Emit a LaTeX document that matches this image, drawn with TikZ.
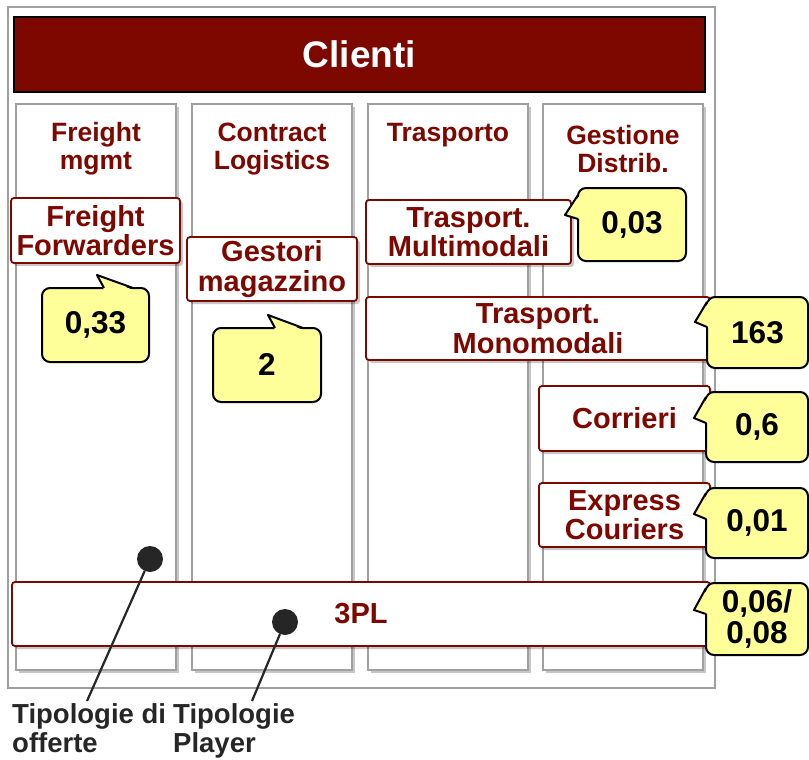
\documentclass[tikz,border=0pt]{standalone}
\usepackage{fontspec}
\setmainfont{Liberation Sans}
\usetikzlibrary{shadows}
\definecolor{dred}{RGB}{125,8,0}
\definecolor{yel}{RGB}{255,255,153}
\definecolor{colgray}{RGB}{160,160,160}
\definecolor{ink}{RGB}{38,38,38}
\newcommand\lblfont{\fontsize{29}{29.5}\selectfont\bfseries}
\newcommand\numfont{\fontsize{31.5}{32}\selectfont\bfseries}
\newcommand\hdrfont{\fontsize{26.5}{28}\selectfont\bfseries}
\newcommand\botfont{\fontsize{27.5}{29}\selectfont\bfseries}
\tikzset{
  shd/.style={drop shadow={shadow xshift=3pt, shadow yshift=-3pt, opacity=0.22, fill=black}},
  frame/.style={draw=colgray, line width=2pt},
  colbox/.style={draw=colgray, line width=1.6pt, fill=white, shd},
  clbar/.style={draw=black, line width=2pt, fill=dred, text=white, font=\fontsize{37}{40}\selectfont\bfseries, inner sep=0pt},
  hdr/.style={text=dred, font=\hdrfont, align=center, inner sep=0pt},
  lbl/.style={draw=dred, line width=1.8pt, fill=white, rounded corners=3pt, align=center, text=dred, font=\lblfont, inner sep=0pt, shd},
  callbox/.style={draw=black, line width=2pt, fill=yel, rounded corners=8pt, align=center, text=black, font=\numfont, inner sep=0pt},
  ptrfill/.style={fill=yel},
  ptrline/.style={draw=black, line width=2pt, line join=round},
  dot/.style={circle, fill=ink, minimum size=26pt, inner sep=0pt},
  lead/.style={draw=ink, line width=2.2pt},
  btxt/.style={text=ink, font=\botfont, align=left, inner sep=0pt, anchor=north west}
}
\begin{document}
\begin{tikzpicture}[x=1pt,y=-1pt]
\useasboundingbox (0,0) rectangle (809,760);
% outer frame
\draw[frame, fill=white] (8,7) rectangle (715,688);
% Clienti bar
\node[clbar, minimum width=691pt, minimum height=75pt] (cl) at (359.5,54.5) {Clienti};
% columns
\draw[colbox] (16,104) rectangle (176,670);
\draw[colbox] (192,104) rectangle (352,670);
\draw[colbox] (368,104) rectangle (528,670);
\draw[colbox] (543,104) rectangle (703,670);
% headers
\node[hdr] (h1) at (96,149) {Freight\\mgmt};
\node[hdr] (h2) at (272,149) {Contract\\Logistics};
\node[hdr] (h3) at (448,135) {Trasporto};
\node[hdr] (h4) at (623,149) {Gestione\\Distrib.};
% label boxes
\node[lbl, minimum width=169pt, minimum height=65pt] (ff) at (95.5,230.5) {Freight\\Forwarders};
\node[lbl, minimum width=170pt, minimum height=64pt] (gm) at (272,269) {Gestori\\magazzino};
\node[lbl, minimum width=205pt, minimum height=64pt] (tmu) at (468.5,232) {Trasport.\\Multimodali};
\node[lbl, minimum width=344pt, minimum height=63pt] (tmo) at (538,328.5) {Trasport.\\Monomodali};
\node[lbl, minimum width=171pt, minimum height=65pt] (cor) at (624.5,418.5) {Corrieri};
\node[lbl, minimum width=171pt, minimum height=64pt] (exc) at (624.5,515) {Express\\Couriers};
\node[lbl, minimum width=698pt, minimum height=64pt] (tpl) at (361,614) {3PL};
% callouts
\node[callbox, minimum width=107pt, minimum height=74pt] (n1) at (95.5,325) {0,33};
\fill[ptrfill] (104,290) -- (97,275) -- (133,290) -- cycle;
\draw[ptrline] (104,288) -- (97,275) -- (133,288);
\node[callbox, minimum width=108pt, minimum height=74pt] (n2) at (267,365) {2};
\fill[ptrfill] (275,330) -- (268,315) -- (303,330) -- cycle;
\draw[ptrline] (275,328) -- (268,315) -- (303,328);
\node[callbox, minimum width=108pt, minimum height=73pt] (n3) at (632,224.5) {0,03};
\fill[ptrfill] (580,195) -- (565,215) -- (580,219) -- cycle;
\draw[ptrline] (578,195) -- (565,215) -- (578,219);
\node[callbox, minimum width=101pt, minimum height=71pt] (n4) at (757.5,332.5) {163};
\fill[ptrfill] (709,302) -- (695,322) -- (709,327) -- cycle;
\draw[ptrline] (707,302) -- (695,322) -- (707,327);
\node[callbox, minimum width=102pt, minimum height=70pt] (n5) at (757,427) {0,6};
\fill[ptrfill] (708,397) -- (694,418) -- (708,423) -- cycle;
\draw[ptrline] (706,397) -- (694,418) -- (706,423);
\node[callbox, minimum width=102pt, minimum height=70pt] (n6) at (757,523) {0,01};
\fill[ptrfill] (708,493) -- (694,514) -- (708,519) -- cycle;
\draw[ptrline] (706,493) -- (694,514) -- (706,519);
\node[callbox, minimum width=102pt, minimum height=72pt, font=\fontsize{31.5}{31}\selectfont\bfseries] (n7) at (757,619) {0,06/\\0,08};
\fill[ptrfill] (708,588) -- (694,610) -- (708,614) -- cycle;
\draw[ptrline] (706,588) -- (694,610) -- (706,614);
% dots and leaders
\node[dot] (d1) at (150,559) {};
\node[dot] (d2) at (285,622) {};
\node[btxt] (t1) at (12,703) {Tipologie di\\offerte};
\node[btxt] (t2) at (173,703) {Tipologie\\Player};
\coordinate (l1) at (87,701);
\coordinate (l2) at (252,701);
\draw[lead] (d1) -- (l1);
\draw[lead] (d2) -- (l2);
\end{tikzpicture}
\end{document}
